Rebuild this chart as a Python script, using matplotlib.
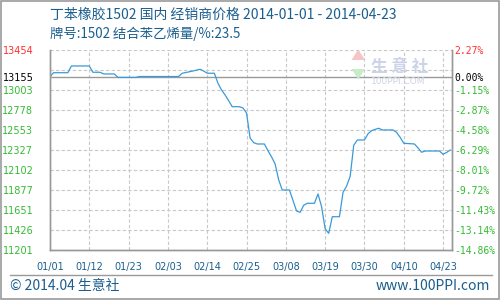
import matplotlib
matplotlib.use("Agg")
import matplotlib.pyplot as plt
import numpy as np

plt.rcParams['font.family'] = ['Noto Sans CJK SC', 'DejaVu Sans']

# days since 2014-01-01 and the dealer price (yuan/t)
days = [0, 1, 5, 6, 11, 12, 14, 15, 18, 19, 24, 25, 36, 37, 40, 42, 43, 44, 46,
        47, 48, 49, 50, 51, 53, 54, 55, 56, 57, 58, 60, 61, 62, 63, 64, 65, 67,
        68, 69, 70, 71, 72, 74, 75, 76, 77, 78, 79, 81, 82, 83, 84, 85, 86, 88,
        89, 90, 91, 92, 93, 96, 97, 98, 99, 102, 103, 104, 105, 109, 110, 111, 112]
prices = [13155, 13198, 13198, 13274, 13274, 13203, 13203, 13184, 13184, 13145,
          13145, 13155, 13155, 13192, 13217, 13237, 13217, 13192, 13192,
          13079, 13004, 12947, 12883, 12815, 12815, 12801, 12744, 12463, 12410,
          12395, 12395, 12320, 12250, 12170, 11990, 11877, 11877,
          11760, 11640, 11626, 11705, 11727, 11727, 11832, 11690, 11440, 11389,
          11576, 11576, 11850, 11920, 12030, 12380, 12440, 12440,
          12510, 12545, 12560, 12572, 12553, 12553, 12525, 12470, 12403, 12395,
          12350, 12302, 12316, 12316, 12279, 12300, 12327]

base = 13155
y_min, y_max = 11201, 13454
left_ticks = [13454, 13155, 13003, 12778, 12553, 12327, 12102, 11877, 11651, 11426, 11201]
right_labels = ['2.27%', '0.00%', '-1.15%', '-2.87%', '-4.58%', '-6.29%', '-8.01%',
                '-9.72%', '-11.43%', '-13.14%', '-14.86%']
x_ticks = [0, 11, 22, 33, 44, 55, 66, 77, 88, 99, 110]
x_labels = ['01/01', '01/12', '01/23', '02/03', '02/14', '02/25', '03/08',
            '03/19', '03/30', '04/10', '04/23']

title = '丁苯橡胶1502 国内 经销商价格 2014-01-01 - 2014-04-23'
subtitle = '牌号:1502 结合苯乙烯量/%:23.5'

blue_text = '#1a5e8e'
red = '#ff3030'
green = '#33bb33'
grey = '#999999'

fig = plt.figure(figsize=(5, 3), dpi=100)
ax = fig.add_axes([0.1, 0.1667, 0.804, 0.6667])

# grid
for g in np.linspace(y_min, y_max, 11):
    ax.axhline(g, color='#c8c8c8', lw=0.8, ls=(0, (3, 2)), zorder=1)
for t in x_ticks[1:]:
    ax.axvline(t, color='#c8c8c8', lw=0.8, ls=(0, (3, 2)), zorder=1)
ax.axhline(base, color=grey, lw=1, zorder=2)

ax.plot(days, prices, color='#3a9ad9', lw=0.9, zorder=3)

ax.set_xlim(0, 112.5)
ax.set_ylim(y_min, y_max)
ax.set_xticks(x_ticks)
ax.set_xticklabels(x_labels, family='DejaVu Sans', fontsize=7, color=blue_text)
ax.set_yticks(left_ticks)
ax.set_yticklabels([str(v) for v in left_ticks], family='DejaVu Sans', fontsize=7)
ax.tick_params(axis='x', length=0, pad=9)
ax.tick_params(axis='y', length=0, pad=12)
for i, lab in enumerate(ax.get_yticklabels()):
    lab.set_color(red if i == 0 else ('black' if i == 1 else green))

ax2 = ax.twinx()
ax2.set_ylim(y_min, y_max)
ax2.set_yticks(left_ticks)
ax2.set_yticklabels(right_labels, family='DejaVu Sans Mono', fontsize=7)
ax2.tick_params(axis='y', length=0, pad=2)
for i, lab in enumerate(ax2.get_yticklabels()):
    lab.set_color(red if i == 0 else ('black' if i == 1 else green))

for a in (ax, ax2):
    a.spines['top'].set_visible(False)
    for s in ('left', 'right', 'bottom'):
        a.spines[s].set_color(grey)
        a.spines[s].set_linewidth(1)

# titles
fig.text(0.1, 1 - 15 / 300, title, fontsize=10, color=blue_text, va='center', ha='left')
fig.text(0.1, 1 - 34 / 300, subtitle, fontsize=9.6, color=blue_text, va='center', ha='left')

# watermark
fig.text(0.80, 1 - 67 / 300, '生 意 社', fontsize=12, color='#ccd3e8', va='center',
         ha='center', weight='bold')
fig.text(0.796, 1 - 81 / 300, '100PPI.COM', fontsize=6.5, color='#ccd3e3', va='center',
         ha='center', family='DejaVu Sans')
fig.add_artist(plt.Polygon([[0.703, 0.80], [0.73, 0.80], [0.7165, 0.835]],
                           closed=True, transform=fig.transFigure, color='#f5c4c4', lw=0))
fig.add_artist(plt.Polygon([[0.703, 0.77], [0.73, 0.77], [0.7165, 0.735]],
                           closed=True, transform=fig.transFigure, color='#c8ecc8', lw=0))

# footer
fig.add_artist(plt.Line2D([10 / 500, 492 / 500], [1 - 275 / 300, 1 - 275 / 300],
                          color=grey, lw=1, transform=fig.transFigure))
fig.text(10 / 500, 1 - 286 / 300, '© 2014.04 生意社', fontsize=10, color=blue_text,
         va='center', ha='left')
fig.text(490 / 500, 1 - 286 / 300, 'www.100PPI.com', fontsize=10, color=blue_text,
         va='center', ha='right')

# outer frame
fig.add_artist(plt.Rectangle((0.001, 0.002), 0.997, 0.995, fill=False, ec=grey, lw=1.2,
                             transform=fig.transFigure))

fig.savefig('out.png', dpi=100)
